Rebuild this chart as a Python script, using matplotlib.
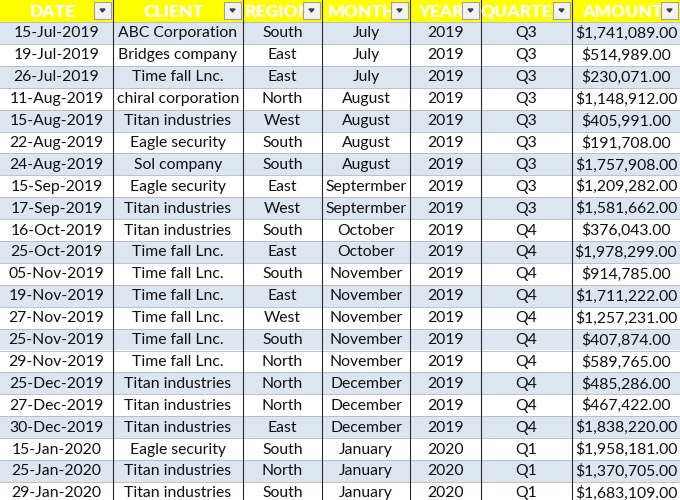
import matplotlib
matplotlib.use("Agg")
import matplotlib.pyplot as plt
from matplotlib.patches import Rectangle

headers = ["DATE", "CLIENT", "REGION", "MONTH", "YEAR", "QUARTER", "AMOUNT"]
dates = ["15-Jul-2019","19-Jul-2019","26-Jul-2019","11-Aug-2019","15-Aug-2019","22-Aug-2019",
         "24-Aug-2019","15-Sep-2019","17-Sep-2019","16-Oct-2019","25-Oct-2019","05-Nov-2019",
         "19-Nov-2019","27-Nov-2019","25-Nov-2019","29-Nov-2019","25-Dec-2019","27-Dec-2019",
         "30-Dec-2019","15-Jan-2020","25-Jan-2020","29-Jan-2020"]
clients = ["ABC Corporation","Bridges company","Time fall Lnc.","chiral corporation","Titan industries",
           "Eagle security","Sol company","Eagle security","Titan industries","Titan industries",
           "Time fall Lnc.","Time fall Lnc.","Time fall Lnc.","Time fall Lnc.","Time fall Lnc.",
           "Time fall Lnc.","Titan industries","Titan industries","Titan industries","Eagle security",
           "Titan industries","Titan industries"]
regions = ["South","East","East","North","West","South","South","East","West","South","East",
           "South","East","West","South","North","North","North","East","South","North","South"]
months = ["July","July","July","August","August","August","August","Septermber","Septermber",
          "October","October","November","November","November","November","November",
          "December","December","December","January","January","January"]
years = [2019]*19 + [2020]*3
quarters = ["Q3"]*9 + ["Q4"]*10 + ["Q1"]*3
amounts = [1741089,514989,230071,1148912,405991,191708,1757908,1209282,1581662,376043,1978299,
           914785,1711222,1257231,407874,589765,485286,467422,1838220,1958181,1370705,1683109]

col_edges = [0, 113, 243, 322, 410, 481, 572, 680]
header_h = 22
row_h = 21.9

fig = plt.figure(figsize=(6.8, 5.0), dpi=100)
ax = fig.add_axes([0, 0, 1, 1])
ax.set_xlim(0, 680)
ax.set_ylim(500, 0)
ax.axis("off")
font = "Lato"

ax.add_patch(Rectangle((0, 0), 680, header_h, facecolor="#FFFF00", edgecolor="none", zorder=1))
for i, h in enumerate(headers):
    x0, x1 = col_edges[i], col_edges[i+1]
    ax.text((x0 + x1) / 2 - 4, header_h / 2 + 1, h, ha="center", va="center", color="white",
            fontsize=12.5, fontweight="heavy", family=font, zorder=2, clip_on=True)
    bx = x1 - 19
    ax.add_patch(Rectangle((bx, 2), 17, 17, facecolor="#F2F2F2", edgecolor="#A0A0A0", lw=0.8, zorder=3))
    ax.fill([bx + 6, bx + 11, bx + 8.5], [9, 9, 12], color="#404040", zorder=4)

rows = list(zip(dates, clients, regions, months, years, quarters, amounts))
for r, row in enumerate(rows):
    y0 = header_h + r * row_h
    color = "#DCE6F1" if r % 2 == 0 else "white"
    ax.add_patch(Rectangle((0, y0), 680, row_h, facecolor=color, edgecolor="none", zorder=0))
    ax.plot([0, 680], [y0, y0], color="#B0B8C4", lw=0.6, zorder=1)
    vals = [row[0], row[1], row[2], row[3], str(row[4]), row[5], f"${row[6]:,.2f}"]
    for c, v in enumerate(vals):
        x0, x1 = col_edges[c], col_edges[c+1]
        ax.text((x0 + x1) / 2, y0 + row_h / 2 + 0.5, v, ha="center", va="center",
                fontsize=11.3, family=font, color="#111111", zorder=2)

for x in col_edges[1:-1]:
    ax.plot([x, x], [0, 500], color="#2A2A2A", lw=0.8, zorder=1.5)

fig.savefig("out.png", dpi=100)
